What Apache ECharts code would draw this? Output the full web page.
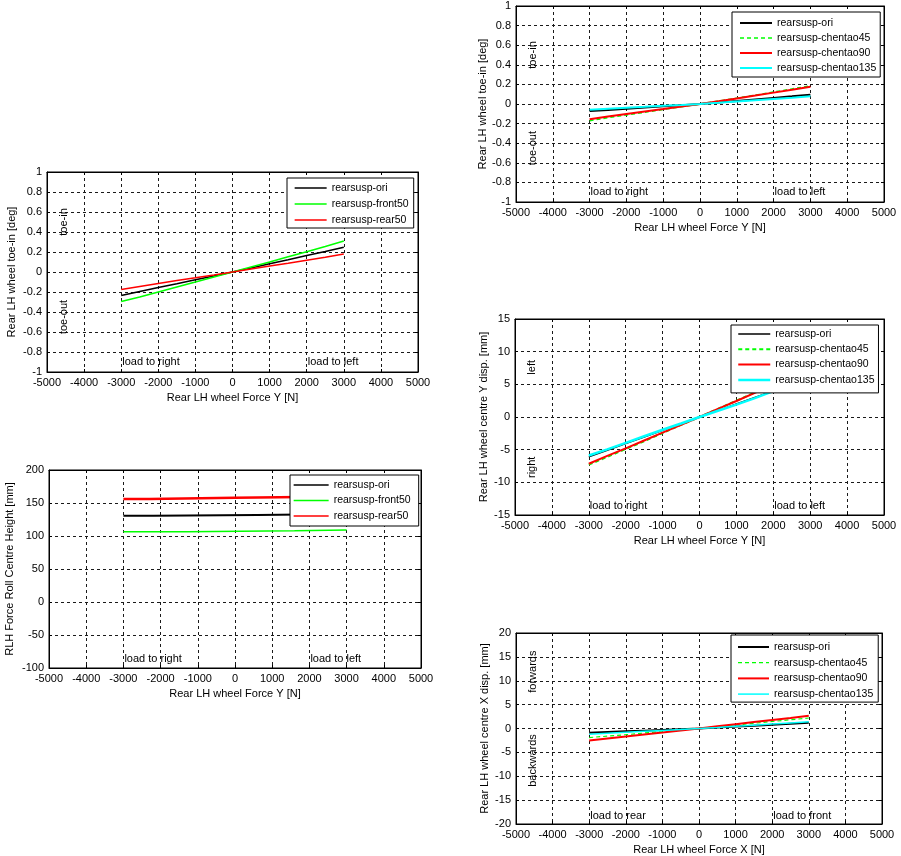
<!DOCTYPE html>
<html><head><meta charset="utf-8">
<script src="https://cdn.jsdelivr.net/npm/echarts@6/dist/echarts.min.js"></script>
<style>html,body{margin:0;padding:0;background:#fff}#c{width:901px;height:856px}</style>
</head><body><div id="c"></div><script>
// ---------- data ----------
const forceX = [-3000,-2500,-2000,-1500,-1000,-500,0,500,1000,1500,2000,2500,3000];

// Panel 1: toe-in vs lateral force (bush variants)
const p1Ori     = [-0.235,-0.195,-0.155,-0.118,-0.078,-0.040,0,0.040,0.082,0.122,0.165,0.205,0.248];
const p1Front50 = [-0.295,-0.250,-0.200,-0.150,-0.100,-0.050,0,0.050,0.100,0.152,0.203,0.255,0.310];
const p1Rear50  = [-0.175,-0.145,-0.115,-0.085,-0.058,-0.030,0,0.030,0.060,0.088,0.118,0.148,0.180];

// Panel 2: roll centre height (stepped)
const p2OriX     = [-3000,-2200,600,3000];
const p2OriY     = [130.5,132,133.5,133.5];
const p2Front50X = [-3000,-1300,1600,3000];
const p2Front50Y = [106.5,108,109,109];
const p2Rear50X  = [-3000,-2300,0,3000];
const p2Rear50Y  = [156,158,160,160];

// Panel 3: toe-in (chentao variants)
const p3Ori  = [-0.072,-0.060,-0.048,-0.036,-0.024,-0.012,0,0.015,0.030,0.046,0.062,0.078,0.095];
const p3C45  = [-0.170,-0.140,-0.112,-0.084,-0.056,-0.028,0,0.030,0.060,0.090,0.122,0.154,0.185];
const p3C90  = [-0.155,-0.128,-0.102,-0.076,-0.051,-0.025,0,0.028,0.057,0.086,0.116,0.145,0.175];
const p3C135 = [-0.058,-0.048,-0.038,-0.029,-0.019,-0.010,0,0.012,0.025,0.038,0.051,0.064,0.078];

// Panel 4: wheel centre Y disp
const p4Ori  = [-6.1,-5.1,-4.1,-3.1,-2.05,-1.0,0,1.0,2.0,3.0,4.0,5.0,6.0];
const p4C45  = [-7.3,-6.1,-4.9,-3.7,-2.45,-1.2,0,1.25,2.5,3.75,5.0,6.2,7.4];
const p4C90  = [-7.15,-5.95,-4.8,-3.6,-2.4,-1.2,0,1.25,2.45,3.7,4.9,6.1,7.3];
const p4C135 = [-5.9,-4.95,-3.95,-2.95,-1.95,-1.0,0,0.95,1.9,2.9,3.95,4.95,5.9];

// Panel 5: wheel centre X disp
const p5Ori  = [-0.9,-0.75,-0.6,-0.45,-0.3,-0.15,0,0.2,0.4,0.6,0.8,1.0,1.2];
const p5C45  = [-1.9,-1.6,-1.3,-0.95,-0.65,-0.3,0,0.37,0.73,1.1,1.47,1.83,2.2];
const p5C90  = [-2.5,-2.1,-1.7,-1.25,-0.85,-0.4,0,0.45,0.9,1.35,1.8,2.2,2.65];
const p5C135 = [-1.2,-1.0,-0.8,-0.6,-0.4,-0.2,0,0.23,0.47,0.7,0.93,1.17,1.4];

// annotation texts [x, y, text]
const p1Notes = [[-4550,0.5,'toe-in'],[-4550,-0.45,'toe-out'],[-3000,-0.9,'load to right'],[2000,-0.9,'load to left']];
const p2Notes = [[-3000,-86,'load to right'],[2000,-86,'load to left']];
const p3Notes = [[-4550,0.5,'toe-in'],[-4550,-0.45,'toe-out'],[-3000,-0.9,'load to right'],[2000,-0.9,'load to left']];
const p4Notes = [[-4550,7.6,'left'],[-4550,-7.7,'right'],[-3000,-13.6,'load to right'],[2000,-13.6,'load to left']];
const p5Notes = [[-4550,11.9,'forwards'],[-4550,-6.7,'backwards'],[-3000,-18.3,'load to rear'],[2000,-18.3,'load to front']];

// ---------- layout / style ----------
const FONT = '"Liberation Sans", Arial, sans-serif';
const BLACK='#000000', GREEN='#00ff00', RED='#ff0000', CYAN='#00ffff';
const DASH=[4,3];
const pair = (xs, ys) => xs.map((x,k)=>[x, ys[k]]);

const panels = [
 {grid:{left:47,top:172,width:371,height:200}, y:[-1,1,0.2], yName:'Rear LH wheel toe-in [deg]', yGap:30, xName:'Rear LH wheel Force Y [N]',
  series:[
   {name:'rearsusp-ori', data:pair(forceX,p1Ori), color:BLACK, w:1.6, lw:1.3},
   {name:'rearsusp-front50', data:pair(forceX,p1Front50), color:GREEN, w:1.6, lw:1.3},
   {name:'rearsusp-rear50', data:pair(forceX,p1Rear50), color:RED, w:1.4, lw:1.3}],
  legend:{left:287, top:178, padding:[4,5,2,7], itemGap:4, itemWidth:32}, notes:p1Notes},
 {grid:{left:49,top:470,width:372,height:198}, y:[-100,200,50], yName:'RLH Force Roll Centre Height [mm]', yGap:34, xName:'Rear LH wheel Force Y [N]',
  series:[
   {name:'rearsusp-ori', data:pair(p2OriX,p2OriY), color:BLACK, w:2, lw:1.3},
   {name:'rearsusp-front50', data:pair(p2Front50X,p2Front50Y), color:GREEN, w:1.5, lw:1.3},
   {name:'rearsusp-rear50', data:pair(p2Rear50X,p2Rear50Y), color:RED, w:2.5, lw:1.3}].map(s=>Object.assign(s,{step:'end'})),
  legend:{left:290, top:475, padding:[4,8,4,3], itemGap:3.5, itemWidth:35}, notes:p2Notes},
 {grid:{left:516,top:6,width:368,height:196}, y:[-1,1,0.2], yName:'Rear LH wheel toe-in [deg]', yGap:27, xName:'Rear LH wheel Force Y [N]',
  series:[
   {name:'rearsusp-ori', data:pair(forceX,p3Ori), color:BLACK, w:2, lw:2},
   {name:'rearsusp-chentao45', data:pair(forceX,p3C45), color:GREEN, w:1.5, lw:1.3, dash:true},
   {name:'rearsusp-chentao90', data:pair(forceX,p3C90), color:RED, w:2, lw:2},
   {name:'rearsusp-chentao135', data:pair(forceX,p3C135), color:CYAN, w:2, lw:2}],
  legend:{left:732, top:12, padding:[5,4,3,7], itemGap:3, itemWidth:32}, notes:p3Notes},
 {grid:{left:515,top:319,width:369,height:196}, y:[-15,15,5], yName:'Rear LH wheel centre Y disp. [mm]', yGap:26, xName:'Rear LH wheel Force Y [N]',
  series:[
   {name:'rearsusp-ori', data:pair(forceX,p4Ori), color:BLACK, w:1.2, lw:1.3},
   {name:'rearsusp-chentao45', data:pair(forceX,p4C45), color:GREEN, w:2, lw:2, dash:true},
   {name:'rearsusp-chentao90', data:pair(forceX,p4C90), color:RED, w:2, lw:2},
   {name:'rearsusp-chentao135', data:pair(forceX,p4C135), color:CYAN, w:2.5, lw:2.5}],
  legend:{left:731, top:325, padding:[3,4,7,6], itemGap:3.3, itemWidth:32}, notes:p4Notes},
 {grid:{left:516,top:633,width:366,height:192}, y:[-20,20,5], yName:'Rear LH wheel centre X disp. [mm]', yGap:26, xName:'Rear LH wheel Force X [N]',
  series:[
   {name:'rearsusp-ori', data:pair(forceX,p5Ori), color:BLACK, w:2, lw:2},
   {name:'rearsusp-chentao45', data:pair(forceX,p5C45), color:GREEN, w:1.2, lw:1.3, dash:true},
   {name:'rearsusp-chentao90', data:pair(forceX,p5C90), color:RED, w:2, lw:2},
   {name:'rearsusp-chentao135', data:pair(forceX,p5C135), color:CYAN, w:1.5, lw:1.5}],
  legend:{left:731, top:635, padding:[6,5,2,6], itemGap:3.7, itemWidth:31}, notes:p5Notes}
];

const option = {animation:false, backgroundColor:'#ffffff', grid:[], xAxis:[], yAxis:[], legend:[], series:[]};
const gridLine = {show:true, lineStyle:{color:'#1a1a1a', type:[3,3], width:1}};
const lab = {color:'#000', fontSize:11, fontFamily:FONT, formatter:(v)=>String(v)};
const nameStyle = {color:'#000', fontSize:11, fontFamily:FONT};

panels.forEach((p,i)=>{
  option.grid.push(Object.assign({show:true, borderColor:'#000', borderWidth:1, backgroundColor:'#fff'}, p.grid));
  const xBase = {gridIndex:i, type:'value', min:-5000, max:5000, interval:1000};
  option.xAxis.push(Object.assign({}, xBase, {position:'bottom', name:p.xName, nameLocation:'middle', nameGap:20,
    nameTextStyle:nameStyle,
    axisLine:{show:true, onZero:false, lineStyle:{color:'#000'}}, axisTick:{inside:true, length:3, lineStyle:{color:'#000'}},
    axisLabel:Object.assign({margin:5, hideOverlap:false}, lab), splitLine:gridLine}));
  option.xAxis.push(Object.assign({}, xBase, {position:'top',
    axisLine:{show:true, onZero:false, lineStyle:{color:'#000'}}, axisTick:{inside:true, length:3, lineStyle:{color:'#000'}},
    axisLabel:{show:false}, splitLine:{show:false}}));
  const yBase = {gridIndex:i, type:'value', min:p.y[0], max:p.y[1], interval:p.y[2]};
  option.yAxis.push(Object.assign({}, yBase, {position:'left', name:p.yName, nameLocation:'middle', nameGap:p.yGap,
    nameTextStyle:nameStyle,
    axisLine:{show:true, onZero:false, lineStyle:{color:'#000'}}, axisTick:{inside:true, length:3, lineStyle:{color:'#000'}},
    axisLabel:Object.assign({margin:5, hideOverlap:false}, lab), splitLine:gridLine}));
  option.yAxis.push(Object.assign({}, yBase, {position:'right',
    axisLine:{show:true, onZero:false, lineStyle:{color:'#000'}}, axisTick:{inside:true, length:3, lineStyle:{color:'#000'}},
    axisLabel:{show:false}, splitLine:{show:false}}));

  p.series.forEach(s=>{
    option.series.push({type:'line', name:s.name, xAxisIndex:2*i, yAxisIndex:2*i, data:s.data, symbol:'none',
      step:s.step||false, z:3,
      lineStyle:{color:s.color, width:s.w, type:s.dash?DASH:'solid'}, itemStyle:{color:s.color}});
  });

  option.legend.push(Object.assign({orient:'vertical', itemHeight:12, backgroundColor:'#fff',
    borderColor:'#000', borderWidth:1, borderRadius:0, selectedMode:false, z:10,
    textStyle:{color:'#000', fontSize:10.5, lineHeight:12, fontFamily:FONT},
    data:p.series.map(s=>({name:s.name, itemStyle:{opacity:0},
      lineStyle:{color:s.color, width:s.lw, type:s.dash?DASH:'solid', opacity:1}}))}, p.legend));

  const notes = p.notes;
  option.series.push({type:'custom', xAxisIndex:2*i, yAxisIndex:2*i, silent:true, clip:false, z:4,
    data:notes.map(n=>[n[0],n[1]]),
    renderItem:(params, api)=>{
      const n = notes[params.dataIndex];
      const pt = api.coord([n[0], n[1]]);
      const vertical = n[0] < -4000;
      return {type:'text', x:pt[0] + (vertical?0:1), y:pt[1], rotation: vertical?Math.PI/2:0,
        style:{text:n[2], fill:'#000', font:'11px '+FONT, align: vertical?'center':'left', verticalAlign:'middle'}};
    }});
});

const chart = echarts.init(document.getElementById('c'), null, {renderer:'canvas'});
chart.setOption(option);
</script></body></html>
